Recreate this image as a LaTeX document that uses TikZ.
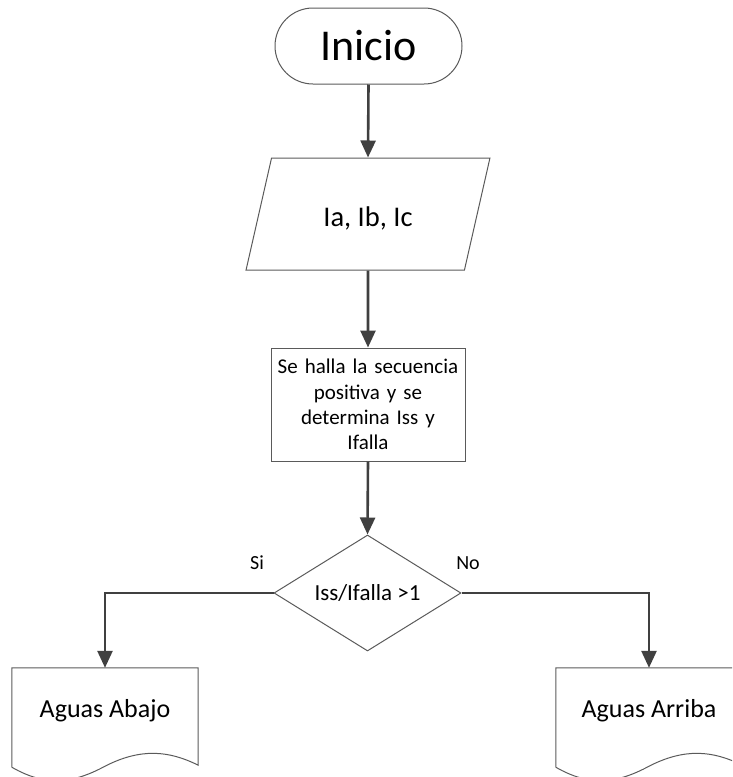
\documentclass[tikz,border=0pt]{standalone}
\usepackage{fontspec}
\setmainfont{Carlito}
\usetikzlibrary{shapes.geometric,shapes.misc,arrows.meta,calc}
\definecolor{linegray}{HTML}{404040}
\definecolor{bordergray}{HTML}{5A5A5A}
\begin{document}
\begin{tikzpicture}[x=1pt,y=-1pt,
  border/.style={draw=bordergray, line width=1pt},
  flow/.style={draw=linegray, line width=2.6pt, -{Triangle[length=17pt,width=15pt]}},
  terminal/.style={border, rounded rectangle, rounded rectangle arc length=180,
    minimum width=187pt, minimum height=76pt, inner sep=0pt,
    font=\fontsize{44}{52}\selectfont},
  iobox/.style={border, trapezium, trapezium left angle=63.8, trapezium right angle=116.2,
    trapezium stretches=true, minimum width=244pt, minimum height=112pt, inner sep=0pt,
    text height=24pt, text depth=0pt,
    font=\fontsize{28.5}{34}\selectfont},
  procbox/.style={border, rectangle, minimum width=190pt, minimum height=113pt,
    text width=194pt, align=center, inner sep=0pt,
    font=\fontsize{21}{25.3}\selectfont},
  decision/.style={border, diamond, aspect=1.6, minimum width=187pt, minimum height=116pt,
    inner sep=0pt, font=\fontsize{23}{28}\selectfont},
  docbox/.style={rectangle, minimum width=186pt, minimum height=80pt, inner sep=0pt,
    text height=18pt, text depth=0pt,
    font=\fontsize{26}{31}\selectfont},
  lbl/.style={font=\fontsize{20}{24}\selectfont, inner sep=0pt}
]
\path[use as bounding box, clip] (0,0) rectangle (732,777);

\node[terminal] (start) at (368.5,46) {Inicio};
\node[iobox] (input) at (368,214) {Ia, Ib, Ic};
\node[procbox] (proc) at (368,404.5) {Se halla la secuencia\\positiva y se\\determina Iss y\\Ifalla};
\node[decision] (dec) at (367.5,593) {Iss/Ifalla >1};
\node[docbox] (down) at (105,708) {Aguas Abajo};
\node[docbox] (up) at (649,708) {Aguas Arriba};

\foreach \d in {down,up}{
  \draw[border] ($(\d.south west)+(0,19)$) -- (\d.north west) -- (\d.north east)
    -- ($(\d.south east)+(0,17)$)
    .. controls ($(\d.south east)+(-30,2)$) and ($(\d.south east)+(-58,0)$) .. ($(\d.south)+(0,18)$)
    .. controls ($(\d.south west)+(60,36)$) and ($(\d.south west)+(33,38)$) .. ($(\d.south west)+(0,19)$);
}

\node[lbl] (si) at (257,563) {Si};
\node[lbl] (no) at (468,563) {No};

\draw[flow] (start.south) -- (input.north);
\draw[flow] (input.south) -- (proc.north);
\draw[flow] (proc.south) -- (dec.north);
\draw[flow] (dec.west) -| (down.north);
\draw[flow] (dec.east) -| (up.north);
\end{tikzpicture}
\end{document}
